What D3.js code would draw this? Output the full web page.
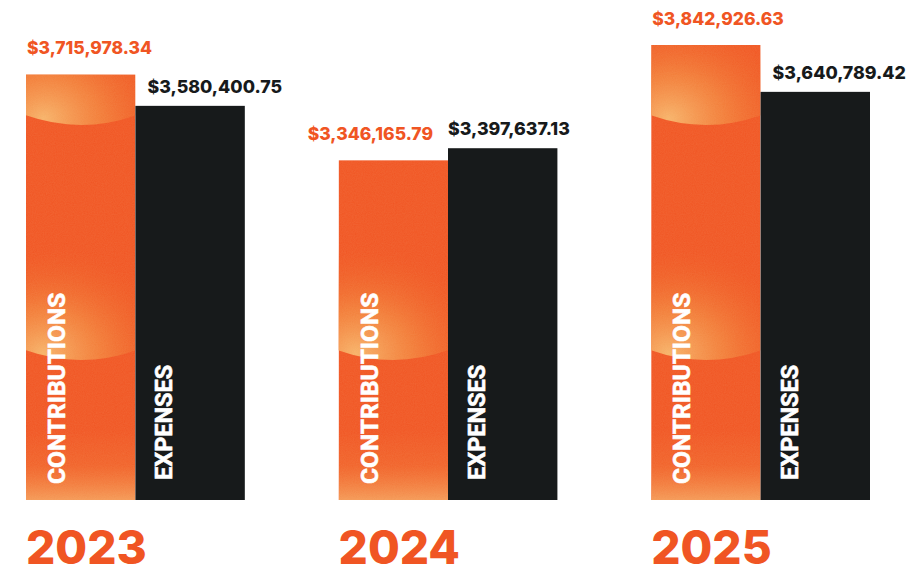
<!DOCTYPE html>
<html>
<head>
<meta charset="utf-8">
<script src="https://cdn.jsdelivr.net/npm/d3@7"></script>
<style>
  body { margin: 0; background: #fff; }
  svg { display: block; }
</style>
</head>
<body>
<div class="container"></div>
<script>
const WIDTH = 906;
const HEIGHT = 575;
const BASE = 500;
const TOP = 45;

var years = ['2023', '2024', '2025'];
var contributions = [3715978.34, 3346165.79, 3842926.63];
var expenses = [3580400.75, 3397637.13, 3640789.42];
var seriesNames = ['CONTRIBUTIONS', 'EXPENSES'];

var ORANGE = '#f05523';
var DARK = '#171a1b';

var fmt = function (v) {
    return '$' + d3.format(',.2f')(v);
};

var xScale = d3.scaleBand()
    .domain(years)
    .range([26, 870])
    .paddingInner(0.3)
    .paddingOuter(0);

var subScale = d3.scaleBand()
    .domain(seriesNames)
    .range([0, xScale.bandwidth()]);

var yScale = d3.scaleLinear()
    .domain([1880000, d3.max(contributions.concat(expenses))])
    .range([BASE, TOP]);

var svg = d3.select('.container').append('svg')
    .attr('width', WIDTH)
    .attr('height', HEIGHT);

var defs = svg.append('defs');

// texture for the orange bars: stacked glowing spheres
var glow = defs.append('radialGradient')
    .attr('id', 'glow')
    .attr('cx', 0.3).attr('cy', 1).attr('r', 0.9)
    .attr('fx', 0.25).attr('fy', 0.95);
glow.append('stop').attr('offset', '0%').attr('stop-color', '#f7b36a').attr('stop-opacity', 1);
glow.append('stop').attr('offset', '40%').attr('stop-color', '#f38a40').attr('stop-opacity', 0.75);
glow.append('stop').attr('offset', '80%').attr('stop-color', '#f06a2a').attr('stop-opacity', 0.25);
glow.append('stop').attr('offset', '100%').attr('stop-color', '#f05523').attr('stop-opacity', 0);

var bottomGlow = defs.append('linearGradient')
    .attr('id', 'bottomGlow')
    .attr('x1', 0).attr('y1', 0).attr('x2', 0).attr('y2', 1);
bottomGlow.append('stop').attr('offset', '0%').attr('stop-color', '#f38a40').attr('stop-opacity', 0);
bottomGlow.append('stop').attr('offset', '50%').attr('stop-color', '#f38a40').attr('stop-opacity', 0.25);
bottomGlow.append('stop').attr('offset', '100%').attr('stop-color', '#f5a560').attr('stop-opacity', 0.85);

var grain = defs.append('filter').attr('id', 'grain')
    .attr('x', 0).attr('y', 0).attr('width', 1).attr('height', 1);
grain.append('feTurbulence')
    .attr('type', 'fractalNoise').attr('baseFrequency', 0.9).attr('numOctaves', 2).attr('result', 'n');
grain.append('feColorMatrix')
    .attr('in', 'n').attr('type', 'matrix')
    .attr('values', '0 0 0 0 1  0 0 0 0 0.7  0 0 0 0 0.4  0 0 0 0.12 0')
    .attr('result', 'c');
grain.append('feComposite').attr('in', 'c').attr('in2', 'SourceGraphic').attr('operator', 'in');

var texLayer = svg.append('g');

var groups = svg.selectAll('g.year').data(years).enter().append('g')
    .attr('class', 'year')
    .attr('transform', function (d) { return 'translate(' + xScale(d) + ',0)'; });

groups.each(function (year, i) {
    var g = d3.select(this);
    var cx = subScale('CONTRIBUTIONS');
    var ex = subScale('EXPENSES');
    var bw = subScale.bandwidth();
    var cTop = yScale(contributions[i]);
    var eTop = yScale(expenses[i]);
    var x0 = xScale(year) + cx;

    // orange bar with texture
    defs.append('clipPath').attr('id', 'clip' + i)
        .append('rect')
        .attr('x', x0).attr('y', cTop)
        .attr('width', bw).attr('height', BASE - cTop);

    var tex = texLayer.append('g').attr('clip-path', 'url(#clip' + i + ')');
    tex.append('rect')
        .attr('x', x0).attr('y', cTop)
        .attr('width', bw).attr('height', BASE - cTop)
        .attr('fill', ORANGE);
    [BASE - 375, BASE - 140].forEach(function (edge) {
        tex.append('path')
            .attr('d', 'M' + (x0 - 20) + ',' + (edge - 130) +
                ' L' + (x0 + bw + 20) + ',' + (edge - 130) +
                ' L' + (x0 + bw + 20) + ',' + (edge - 18) +
                ' Q' + (x0 + bw / 2) + ',' + (edge + 18) + ' ' + (x0 - 20) + ',' + (edge - 18) + ' Z')
            .attr('fill', 'url(#glow)');
    });
    tex.append('rect')
        .attr('x', x0).attr('y', BASE - 70)
        .attr('width', bw).attr('height', 70)
        .attr('fill', 'url(#bottomGlow)');
    tex.append('rect')
        .attr('x', x0).attr('y', cTop)
        .attr('width', bw).attr('height', BASE - cTop)
        .attr('fill', '#fff')
        .attr('filter', 'url(#grain)');

    // dark bar
    g.append('rect')
        .attr('x', ex).attr('y', eTop)
        .attr('width', bw).attr('height', BASE - eTop)
        .attr('fill', DARK);

    // value labels
    var cLabel = g.append('text')
        .attr('y', cTop - 20)
        .attr('fill', ORANGE)
        .attr('font-family', 'Inter, sans-serif')
        .attr('font-weight', 800)
        .attr('font-size', 17.5)
        .text(fmt(contributions[i]));
    if (eTop < cTop) {
        cLabel.attr('x', ex - 15).attr('text-anchor', 'end');
    } else {
        cLabel.attr('x', cx + 1);
    }

    g.append('text')
        .attr('x', cTop < eTop ? ex + 12 : ex)
        .attr('y', eTop - 13)
        .attr('fill', DARK)
        .attr('font-family', 'Inter, sans-serif')
        .attr('font-weight', 800)
        .attr('font-size', 17.8)
        .text(fmt(expenses[i]));

    // series names inside bars
    g.append('text')
        .attr('transform', 'translate(' + (cx + 39) + ',' + (BASE - 16) + ') rotate(-90)')
        .attr('fill', '#fff')
        .attr('stroke', '#fff')
        .attr('stroke-width', 0.6)
        .attr('font-family', 'Roboto, sans-serif')
        .attr('font-weight', 700)
        .attr('font-size', 24.5)
        .text(seriesNames[0]);
    g.append('text')
        .attr('transform', 'translate(' + (ex + 37) + ',' + (BASE - 20) + ') rotate(-90)')
        .attr('fill', '#fff')
        .attr('stroke', '#fff')
        .attr('stroke-width', 0.6)
        .attr('font-family', 'Roboto, sans-serif')
        .attr('font-weight', 700)
        .attr('font-size', 23.5)
        .text(seriesNames[1]);

    // year
    g.append('text')
        .attr('x', 0)
        .attr('y', 564)
        .attr('fill', ORANGE)
        .attr('font-family', 'Inter, sans-serif')
        .attr('font-weight', 800)
        .attr('font-size', 46)
        .text(year);
});
</script>
</body>
</html>
